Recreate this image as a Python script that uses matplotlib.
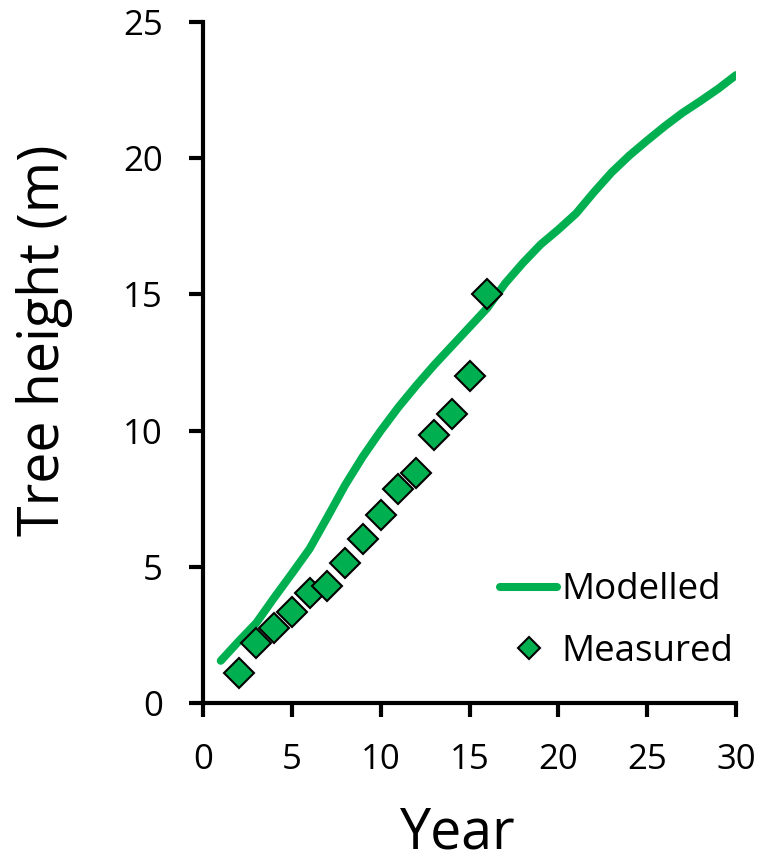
import matplotlib
matplotlib.use("Agg")
import matplotlib.pyplot as plt

plt.rcParams['font.family'] = ['Open Sans', 'DejaVu Sans']

# Modelled curve (yearly)
model_year = list(range(1, 31))
model_height = [1.55, 2.26, 2.94, 3.86, 4.75, 5.66, 6.82, 8.0, 9.05, 9.99,
                10.86, 11.65, 12.4, 13.1, 13.8, 14.5, 15.4, 16.15, 16.83, 17.38,
                17.97, 18.75, 19.48, 20.1, 20.65, 21.18, 21.67, 22.1, 22.55, 23.05]

# Measured points
meas_year = [2, 3, 4, 5, 6, 7, 8, 9, 10, 11, 12, 13, 14, 15, 16]
meas_height = [1.10, 2.20, 2.76, 3.35, 4.02, 4.31, 5.15, 6.03, 6.91, 7.87,
               8.43, 9.83, 10.6, 12.0, 15.0]

x_ticks = [0, 5, 10, 15, 20, 25, 30]
y_ticks = [0, 5, 10, 15, 20, 25]

green = '#00B050'

fig = plt.figure(figsize=(7.61, 8.63), dpi=100)
ax = fig.add_axes([203/761, 1 - 703/863, (736-203)/761, (703-22)/863])

ax.plot(model_year, model_height, color=green, lw=5.8, solid_capstyle='round',
        solid_joinstyle='round', label='Modelled', zorder=2)
ax.plot(meas_year, meas_height, linestyle='none', marker='D', ms=15,
        mfc=green, mec='black', mew=1.5, label='Measured', zorder=3)

ax.set_xlim(0, 30)
ax.set_ylim(0, 25)
ax.set_xticks(x_ticks)
ax.set_yticks(y_ticks)

for s in ['top', 'right']:
    ax.spines[s].set_visible(False)
for s in ['left', 'bottom']:
    ax.spines[s].set_linewidth(3)
    ax.spines[s].set_capstyle('projecting')

ax.tick_params(axis='both', direction='out', length=10, width=3, labelsize=25)
ax.tick_params(axis='x', pad=19)
ax.tick_params(axis='y', pad=19)

fig.text(45/761, 1 - 340/863, 'Tree height (m)', rotation=90, fontsize=40,
         ha='center', va='center')
fig.text(458/761, 1 / 863, 'Year', fontsize=40, ha='center', va='bottom')

leg = ax.legend(loc='center left', bbox_to_anchor=(500/761, 1 - 621/863),
                bbox_transform=fig.transFigure, frameon=False,
                fontsize=26.5, handlelength=1.55, handletextpad=0.13,
                markerscale=0.77, labelspacing=0.68, borderpad=0,
                borderaxespad=0)

fig.savefig('out.png', dpi=100)
